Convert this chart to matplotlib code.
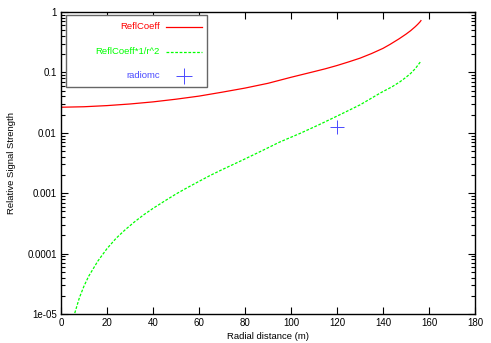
import matplotlib
matplotlib.use("Agg")
import matplotlib.pyplot as plt
from matplotlib.ticker import LogLocator, FixedLocator, NullFormatter
from matplotlib.patches import Rectangle
from matplotlib.lines import Line2D

plt.rcParams['font.family'] = ['Liberation Sans', 'DejaVu Sans']

# Data
refl_x = [0, 10, 20, 30, 40, 50, 60, 70, 80, 90, 100, 110, 115, 120, 125, 130, 135,
          140, 143, 147, 150, 152, 154, 155, 156, 156.5]
refl_y = [0.0265, 0.0270, 0.0282, 0.0300, 0.0325, 0.0360, 0.0405, 0.0470, 0.0550, 0.0660,
          0.0830, 0.1030, 0.1150, 0.1300, 0.1490, 0.1720, 0.2050, 0.2500, 0.2900, 0.3600,
          0.4300, 0.4900, 0.5700, 0.6200, 0.6800, 0.7200]

inv_x = [5.0, 6, 8, 10, 12, 16, 20, 24, 28, 32, 36, 40, 45, 50, 55, 60, 65, 70, 78, 86.5,
         95, 104, 112, 121, 130, 139, 144, 147.4, 150, 152, 154, 156.3]
inv_y = [7.5e-6, 1.04e-5, 1.86e-5, 2.9e-5, 4.2e-5, 7.5e-5, 1.21e-4, 1.8e-4, 2.5e-4, 3.36e-4,
         4.4e-4, 5.6e-4, 7.4e-4, 9.7e-4, 1.24e-3, 1.57e-3, 1.98e-3, 2.45e-3, 3.4e-3, 4.86e-3,
         7.0e-3, 9.8e-3, 1.35e-2, 1.97e-2, 2.9e-2, 4.6e-2, 5.8e-2, 7.0e-2, 8.3e-2, 9.6e-2,
         0.115, 0.150]

radio_x = [120]
radio_y = [0.0125]

labels = ['ReflCoeff', 'ReflCoeff*1/r^2', 'radiomc']
xticks = [0, 20, 40, 60, 80, 100, 120, 140, 160, 180]
yticks = [1e-5, 1e-4, 1e-3, 1e-2, 1e-1, 1]
ytick_labels = ['1e-05', '0.0001', '0.001', '0.01', '0.1', '1']

RED, GREEN, BLUE = '#ff0000', '#00ff00', '#4a4aff'
FS = 7.0

W, H = 491, 343
fig = plt.figure(figsize=(W / 100, H / 100), dpi=100)
L, R, T, B = 61, 475, 12, 314
ax = fig.add_axes([L / W, (H - B) / H, (R - L) / W, (B - T) / H])

ax.plot(refl_x, refl_y, color=RED, lw=0.9)
ax.plot(inv_x, inv_y, color=GREEN, lw=0.9, dashes=(2.2, 1.3))
ax.plot(radio_x, radio_y, ls='none', marker='+', markersize=10, markeredgewidth=0.7, color=BLUE)

ax.set_yscale('log')
ax.set_xlim(0, 180)
ax.set_ylim(1e-5, 1)
ax.xaxis.set_major_locator(FixedLocator(xticks))
ax.set_xticklabels([str(v) for v in xticks])
ax.yaxis.set_major_locator(FixedLocator(yticks))
ax.set_yticklabels(ytick_labels)
ax.yaxis.set_minor_locator(LogLocator(base=10, subs=[2, 3, 4, 5, 6, 7, 8, 9], numticks=20))
ax.yaxis.set_minor_formatter(NullFormatter())

ax.tick_params(which='both', direction='in', top=True, right=True, labelsize=FS, pad=3, width=0.8)
ax.tick_params(which='major', length=5)
ax.tick_params(which='minor', length=3)
for s in ax.spines.values():
    s.set_linewidth(1.0)

ax.set_xlabel('Radial distance (m)', fontsize=6.8, labelpad=3)
ax.set_ylabel('Relative Signal Strength', fontsize=6.8, labelpad=8)

# Manual gnuplot-style key (positions in figure pixels -> axes fraction)
def fx(px):
    return (px - L) / (R - L)

def fy(py):
    return (B - py) / (B - T)

ax.add_patch(Rectangle((fx(66), fy(87)), fx(207) - fx(66), fy(15) - fy(87),
                       transform=ax.transAxes, facecolor='white', edgecolor='#666666',
                       lw=1.0, zorder=5))
rows = [26.7, 51.7, 76.0]
colors = [RED, GREEN, BLUE]
for lab, c, ry in zip(labels, colors, rows):
    ax.text(fx(160), fy(ry), lab, transform=ax.transAxes, ha='right', va='center',
            fontsize=6.8, color=c, zorder=6)
ax.add_line(Line2D([fx(166), fx(202)], [fy(rows[0])] * 2, transform=ax.transAxes,
                   color=RED, lw=0.9, zorder=6))
ax.add_line(Line2D([fx(166), fx(202)], [fy(rows[1])] * 2, transform=ax.transAxes,
                   color=GREEN, lw=0.9, dashes=(2.2, 1.3), zorder=6))
ax.add_line(Line2D([fx(184)], [fy(rows[2])], transform=ax.transAxes, ls='none',
                   marker='+', markersize=11, markeredgewidth=0.7, color=BLUE, zorder=6))

fig.savefig('out.png', dpi=100)
